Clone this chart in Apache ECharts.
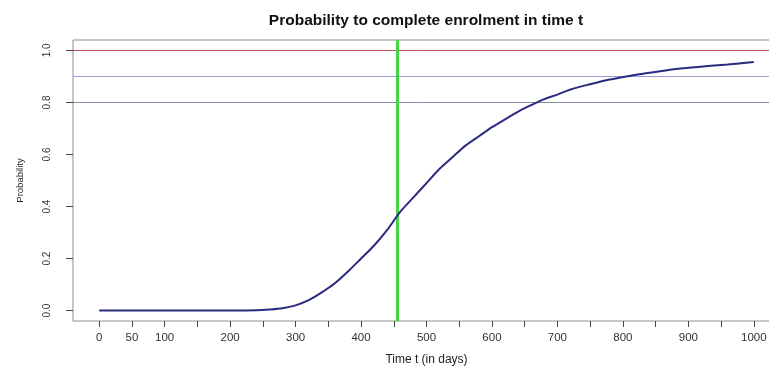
<!DOCTYPE html>
<html>
<head>
<meta charset="utf-8">
<script src="https://cdn.jsdelivr.net/npm/echarts@6/dist/echarts.min.js"></script>
<style>html,body{margin:0;padding:0;background:#fff;}#c{width:769px;height:367px;}</style>
</head>
<body>
<div id="c"></div>
<script>
var days = [0, 50, 100, 150, 200, 240, 260, 280, 300, 320, 340, 360, 380, 400, 420, 440, 460, 480, 500, 520, 540, 560, 580, 600, 620, 640, 660, 680, 700, 720, 750, 780, 810, 840, 870, 900, 930, 960, 1000];
var probability = [0, 0, 0, 0, 0, 0.001, 0.004, 0.009, 0.02, 0.04, 0.07, 0.105, 0.15, 0.2, 0.25, 0.31, 0.38, 0.435, 0.49, 0.545, 0.59, 0.635, 0.67, 0.705, 0.735, 0.765, 0.79, 0.813, 0.83, 0.85, 0.87, 0.888, 0.902, 0.914, 0.925, 0.933, 0.94, 0.946, 0.955];
var xTicks = [0, 50, 100, 150, 200, 250, 300, 350, 400, 450, 500, 550, 600, 650, 700, 750, 800, 850, 900, 950, 1000];
var xLabels = [0, 50, 100, 200, 300, 400, 500, 600, 700, 800, 900, 1000];
var yTicks = [0, 0.2, 0.4, 0.6, 0.8, 1.0];
var refLevels = [1.0, 0.9, 0.8];
var refColors = ['#c0504d', '#9a9ad8', '#8a8aa8'];
var refDay = 455;

var chart = echarts.init(document.getElementById('c'));
var font = 'Liberation Sans, Arial, sans-serif';
var markData = refLevels.map(function (v, i) {
  return { yAxis: v, lineStyle: { color: refColors[i], width: 1, type: 'solid' } };
});
markData.push({ xAxis: refDay, lineStyle: { color: '#44d444', width: 3, type: 'solid' } });

chart.setOption({
  animation: false,
  backgroundColor: '#fff',
  title: {
    text: 'Probability to complete enrolment in time t',
    left: 421, top: 8, textAlign: 'center',
    textStyle: { fontFamily: font, fontSize: 15.5, fontWeight: 'bold', color: '#111' }
  },
  grid: { left: 73, top: 40, width: 707, bottom: 46, outerBoundsMode: 'none', show: true, borderColor: '#8c8c8c', borderWidth: 1, backgroundColor: 'transparent' },
  xAxis: {
    type: 'value', min: -40, max: 1040,
    name: 'Time t (in days)', nameLocation: 'middle', nameGap: 33,
    nameTextStyle: { fontFamily: font, fontSize: 12, color: '#222' },
    axisLine: { show: false, onZero: false },
    splitLine: { show: false },
    axisTick: { show: true, length: 6, customValues: xTicks, lineStyle: { color: '#444' } },
    axisLabel: { customValues: xLabels, margin: 11, fontFamily: font, fontSize: 11.5, color: '#333',
      formatter: function (v) { return String(v); } }
  },
  yAxis: {
    type: 'value', min: -0.04, max: 1.04,
    name: 'Probability', nameLocation: 'middle', nameGap: 48, nameRotate: 90,
    nameTextStyle: { fontFamily: font, fontSize: 9.5, color: '#222' },
    axisLine: { show: false, onZero: false },
    splitLine: { show: false },
    axisTick: { show: true, length: 7, customValues: yTicks, lineStyle: { color: '#444' } },
    axisLabel: { customValues: yTicks, rotate: 90, margin: 21, fontFamily: font, fontSize: 10, color: '#333',
      formatter: function (v) { return v.toFixed(1); } }
  },
  series: [{
    type: 'line',
    data: days.map(function (d, i) { return [d, probability[i]]; }),
    smooth: 0.3,
    showSymbol: false,
    lineStyle: { color: '#2a2a80', width: 2 },
    z: 3,
    markLine: { silent: true, symbol: 'none', label: { show: false }, data: markData, z: 2 }
  }]
});
</script>
</body>
</html>
